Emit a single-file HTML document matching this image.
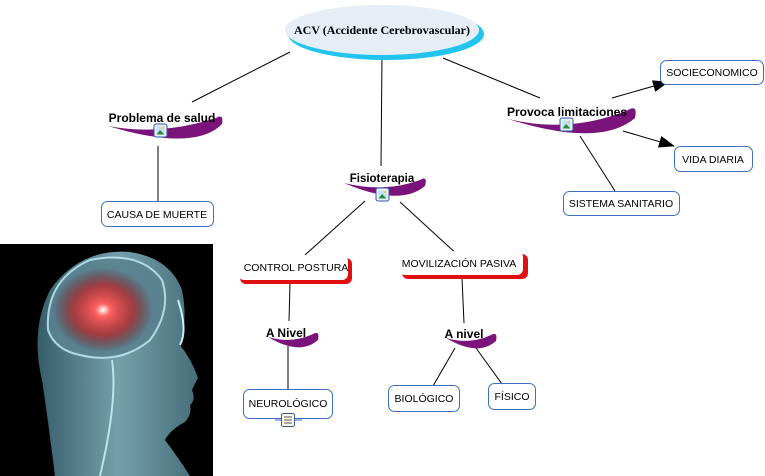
<!DOCTYPE html>
<html><head><meta charset="utf-8"><style>
html,body{margin:0;padding:0;background:#fff;}
svg{display:block;}
text{font-family:"Liberation Sans",sans-serif;}
</style></head><body>
<svg width="765" height="476" viewBox="0 0 765 476" xmlns="http://www.w3.org/2000/svg">
<defs>
<radialGradient id="glow" cx="0.5" cy="0.5" r="0.5">
<stop offset="0" stop-color="#fff"/><stop offset="0.15" stop-color="#ff6060"/><stop offset="0.6" stop-color="#c02020" stop-opacity="0.7"/><stop offset="1" stop-color="#600" stop-opacity="0"/>
</radialGradient>
<linearGradient id="head" x1="0" y1="0" x2="1" y2="0">
<stop offset="0" stop-color="#3a6270"/><stop offset="0.5" stop-color="#7aa8b4"/><stop offset="1" stop-color="#4a7480"/>
</linearGradient>
<marker id="ar" markerWidth="16" markerHeight="12" refX="15" refY="6" orient="auto" markerUnits="userSpaceOnUse">
<path d="M0,0 L16,6 L0,12 Z" fill="#000"/></marker>
<g id="ic"><rect x="0" y="0" width="13" height="13" rx="2" fill="#e8f0ff" stroke="#3355aa" stroke-width="1"/><rect x="2.5" y="2.5" width="8" height="8" fill="#bfe0ff"/><path d="M2.5,10.5 L6,6 L10.5,10.5 Z" fill="#2a8a3a"/><circle cx="9" cy="4" r="1.3" fill="#f0d040"/></g>
</defs>

<g stroke="#000" stroke-width="1" fill="none">
<line x1="290" y1="52" x2="192" y2="102"/>
<line x1="382" y1="56" x2="381" y2="166"/>
<line x1="443" y1="58" x2="540" y2="98"/>
<line x1="158" y1="146" x2="158" y2="201"/>
<line x1="365" y1="201" x2="305" y2="255"/>
<line x1="400" y1="202" x2="460" y2="257"/>
<line x1="290" y1="283" x2="289" y2="321"/>
<line x1="288" y1="346" x2="288" y2="390"/>
<line x1="462" y1="278" x2="464" y2="323"/>
<line x1="455" y1="348" x2="433" y2="386"/>
<line x1="476" y1="348" x2="502" y2="384"/>
<line x1="580" y1="136" x2="615" y2="191"/>
<line x1="612" y1="98" x2="668" y2="82" marker-end="url(#ar)"/>
<line x1="623" y1="131" x2="674" y2="146" marker-end="url(#ar)"/>
</g>

<ellipse cx="386" cy="34" rx="98" ry="26" fill="#22c4ee"/>
<ellipse cx="382" cy="30" rx="97" ry="25" fill="#e4eef4"/>
<text x="382" y="34" font-weight="bold" font-size="12" text-anchor="middle" style="font-family:'Liberation Serif',serif">ACV (Accidente Cerebrovascular)</text>

<g fill="#7a137a">
<path d="M108,126 Q160,136 216,118 Q224,113 222,124 Q195,152 108,126 Z"/>
<path d="M344,183 Q385,193 420,180 Q428,175 425,186 Q400,207 344,183 Z"/>
<path d="M268,337 Q292,344 313,334 Q320,330 318,340 Q300,356 268,337 Z"/>
<path d="M446,338 Q470,345 491,335 Q498,331 496,341 Q478,357 446,338 Z"/>
<path d="M508,119 Q570,134 628,110 Q638,104 635,118 Q600,148 508,119 Z"/>
</g>
<text x="162" y="122" font-weight="bold" font-size="12" text-anchor="middle">Problema de salud</text>
<use href="#ic" x="154" y="124"/>
<text x="382" y="182" font-weight="bold" font-size="11.5" text-anchor="middle">Fisioterapia</text>
<use href="#ic" x="376" y="188"/>
<text x="286" y="337" font-weight="bold" font-size="12" text-anchor="middle">A Nivel</text>
<text x="464" y="338" font-weight="bold" font-size="12" text-anchor="middle">A nivel</text>
<text x="567" y="116" font-weight="bold" font-size="12" text-anchor="middle">Provoca limitaciones</text>
<use href="#ic" x="560" y="118"/>

<rect x="240" y="258" width="112" height="26" rx="6" fill="#e01010"/>
<rect x="238" y="255" width="110" height="25" rx="6" fill="#fff"/>
<text x="296" y="271" font-size="10.5" text-anchor="middle">CONTROL POSTURA</text>
<rect x="402" y="254" width="126" height="25" rx="6" fill="#e01010"/>
<rect x="399" y="251" width="124" height="24" rx="6" fill="#fff"/>
<text x="459" y="267" font-size="10.5" text-anchor="middle">MOVILIZACIÓN PASIVA</text>

<g fill="#fff" stroke="#3f6fc4" stroke-width="1">
<rect x="101.5" y="201.5" width="112" height="25" rx="6"/>
<rect x="243.5" y="389.5" width="89" height="29" rx="6"/>
<rect x="388.5" y="385.5" width="71" height="26" rx="6"/>
<rect x="488.5" y="383.5" width="47" height="26" rx="6"/>
<rect x="660.5" y="60.5" width="103" height="24" rx="6"/>
<rect x="674.5" y="146.5" width="78" height="25" rx="6"/>
<rect x="563.5" y="191.5" width="116" height="24" rx="6"/>
</g>
<g font-size="10.5" text-anchor="middle">
<text x="157" y="218">CAUSA DE MUERTE</text>
<text x="288" y="407">NEUROLÓGICO</text>
<text x="424" y="402">BIOLÓGICO</text>
<text x="512" y="400">FÍSICO</text>
<text x="712" y="76">SOCIECONOMICO</text>
<text x="713" y="163">VIDA DIARIA</text>
<text x="621" y="207">SISTEMA SANITARIO</text>
</g>
<line x1="275" y1="420" x2="302" y2="420" stroke="#3f6fc4"/>
<rect x="281.5" y="413.5" width="13" height="13" rx="2" fill="#fffbe0" stroke="#3355aa"/>
<path d="M284,417 h8 M284,420 h8 M284,423 h8" stroke="#555" stroke-width="1"/>

<rect x="0" y="244" width="213" height="232" fill="#000"/>
<path d="M55,476 Q48,420 42,380 Q30,330 50,290 Q80,248 130,252 Q170,258 182,290 Q188,320 180,345 Q192,360 198,378 Q194,385 192,390 Q196,400 190,405 Q192,415 185,422 Q170,430 165,440 Q180,460 190,476 Z" fill="url(#head)" opacity="0.95"/>
<path d="M48,330 Q45,280 90,260 Q140,250 162,280 Q172,310 150,340 Q120,365 80,355 Q55,350 48,330 Z" fill="#5a8290" stroke="#b8e4ee" stroke-width="2" opacity="0.9"/>
<ellipse cx="103" cy="310" rx="50" ry="42" fill="url(#glow)"/>
<path d="M112,360 Q118,400 100,476" stroke="#b8e4ee" stroke-width="2" fill="none"/>
<path d="M178,300 Q188,330 180,345" stroke="#c8eef6" stroke-width="2" fill="none"/>
</svg>
</body></html>
